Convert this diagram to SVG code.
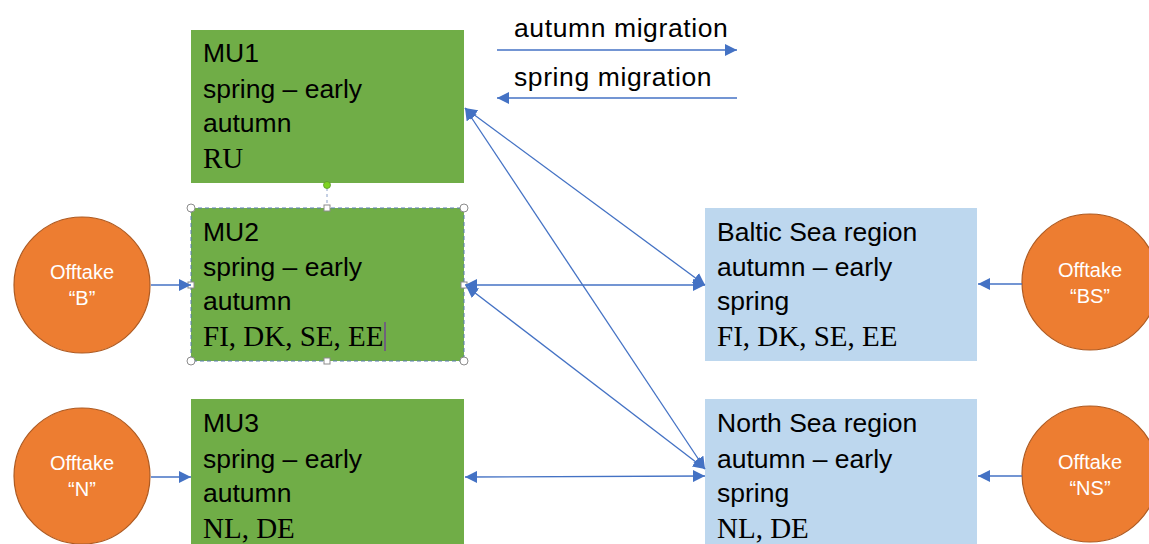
<svg xmlns="http://www.w3.org/2000/svg" width="1149" height="544" viewBox="0 0 1149 544">
<defs>
<style>
.g{fill:#70AD47}
.b{fill:#BDD7EE}
.o{fill:#ED7D31;stroke:#AE5A21;stroke-width:1.2}
.t{font-family:"Liberation Sans",Arial,sans-serif;font-size:26.5px;fill:#000}
.l{font-family:"Liberation Sans",Arial,sans-serif;font-size:26.5px;letter-spacing:0.6px;fill:#000}
.s{font-family:"Liberation Serif","Times New Roman",serif;font-size:29px;fill:#000}
.w{font-family:"Liberation Sans",Arial,sans-serif;font-size:20px;fill:#fff;text-anchor:middle}
.c{stroke:#4472C4;stroke-width:1.3;fill:none}
.h{fill:#fff;stroke:#8c8c8c;stroke-width:1}
</style>
<marker id="a" viewBox="0 0 10 10" refX="10" refY="5" markerWidth="12" markerHeight="12" orient="auto-start-reverse" markerUnits="userSpaceOnUse">
<path d="M0,0 L10,5 L0,10 z" fill="#4472C4"/>
</marker>
</defs>
<rect width="1149" height="544" fill="#fff"/>

<g id="legend">
<text class="l" x="514" y="37">autumn migration</text>
<text class="l" x="514" y="86">spring migration</text>
</g>

<g id="MU1">
<rect class="g" x="191" y="30" width="273" height="153"/>
<text class="t" x="203" y="62">MU1</text>
<text class="t" x="203" y="98">spring – early</text>
<text class="t" x="203" y="132">autumn</text>
<text class="s" x="203" y="168">RU</text>
</g>

<g id="MU2">
<rect class="g" x="191" y="208" width="273" height="153"/>
<text class="t" x="203" y="241">MU2</text>
<text class="t" x="203" y="276">spring – early</text>
<text class="t" x="203" y="310">autumn</text>
<text class="s" x="203" y="346">FI, DK, SE, EE</text>
<line x1="385" y1="322" x2="385" y2="351" stroke="#7030A0" stroke-width="1.2"/>
</g>

<g id="MU2-selection">
<rect x="191" y="208" width="273" height="153" fill="none" stroke="#5B7DB3" stroke-width="1" stroke-dasharray="4,3"/>
<line x1="327" y1="188" x2="327" y2="205" stroke="#8AA0C8" stroke-width="1" stroke-dasharray="3,3"/>
<circle cx="327" cy="185" r="3.5" fill="#7ED321" stroke="#5a9a2a" stroke-width="0.8"/>
<circle class="h" cx="191" cy="208" r="4"/>
<circle class="h" cx="464" cy="208" r="4"/>
<circle class="h" cx="191" cy="361" r="4"/>
<circle class="h" cx="464" cy="361" r="4"/>
<rect class="h" x="324" y="205" width="6" height="6"/>
<rect class="h" x="324" y="358" width="6" height="6"/>
<rect class="h" x="188" y="282" width="6" height="6"/>
<rect class="h" x="461" y="282" width="6" height="6"/>
</g>

<g id="MU3">
<rect class="g" x="191" y="399" width="273" height="150"/>
<text class="t" x="203" y="432">MU3</text>
<text class="t" x="203" y="468">spring – early</text>
<text class="t" x="203" y="502">autumn</text>
<text class="s" x="203" y="538">NL, DE</text>
</g>

<g id="baltic">
<rect class="b" x="705" y="208" width="272" height="153"/>
<text class="t" x="717" y="241">Baltic Sea region</text>
<text class="t" x="717" y="276">autumn – early</text>
<text class="t" x="717" y="310">spring</text>
<text class="s" x="717" y="346">FI, DK, SE, EE</text>
</g>

<g id="northsea">
<rect class="b" x="705" y="399" width="272" height="150"/>
<text class="t" x="717" y="432">North Sea region</text>
<text class="t" x="717" y="468">autumn – early</text>
<text class="t" x="717" y="502">spring</text>
<text class="s" x="717" y="538">NL, DE</text>
</g>

<g id="offtakeB">
<circle class="o" cx="82" cy="285" r="68"/>
<text class="w" x="82" y="279">Offtake</text>
<text class="w" x="82" y="305">“B”</text>
</g>
<g id="offtakeN">
<circle class="o" cx="82" cy="476" r="68"/>
<text class="w" x="82" y="470">Offtake</text>
<text class="w" x="82" y="496">“N”</text>
</g>
<g id="offtakeBS">
<circle class="o" cx="1090" cy="282" r="68"/>
<text class="w" x="1090" y="277">Offtake</text>
<text class="w" x="1090" y="303">“BS”</text>
</g>
<g id="offtakeNS">
<circle class="o" cx="1090" cy="474" r="68"/>
<text class="w" x="1090" y="469">Offtake</text>
<text class="w" x="1090" y="495">“NS”</text>
</g>

<g id="connectors">
<line class="c" x1="497" y1="50" x2="737" y2="50" marker-end="url(#a)"/>
<line class="c" x1="737" y1="98" x2="497" y2="98" marker-end="url(#a)"/>
<line class="c" x1="151" y1="285" x2="191" y2="285" marker-end="url(#a)"/>
<line class="c" x1="151" y1="477" x2="191" y2="477" marker-end="url(#a)"/>
<line class="c" x1="1022" y1="284" x2="978" y2="284" marker-end="url(#a)"/>
<line class="c" x1="1022" y1="476" x2="978" y2="476" marker-end="url(#a)"/>
<line class="c" x1="465" y1="285" x2="705" y2="285" marker-start="url(#a)" marker-end="url(#a)"/>
<line class="c" x1="465" y1="108" x2="705" y2="285" marker-start="url(#a)" marker-end="url(#a)"/>
<line class="c" x1="465" y1="108" x2="705" y2="469" marker-start="url(#a)" marker-end="url(#a)"/>
<line class="c" x1="466" y1="286" x2="705" y2="469" marker-start="url(#a)" marker-end="url(#a)"/>
<line class="c" x1="465" y1="477" x2="705" y2="476" marker-start="url(#a)" marker-end="url(#a)"/>
</g>
</svg>
